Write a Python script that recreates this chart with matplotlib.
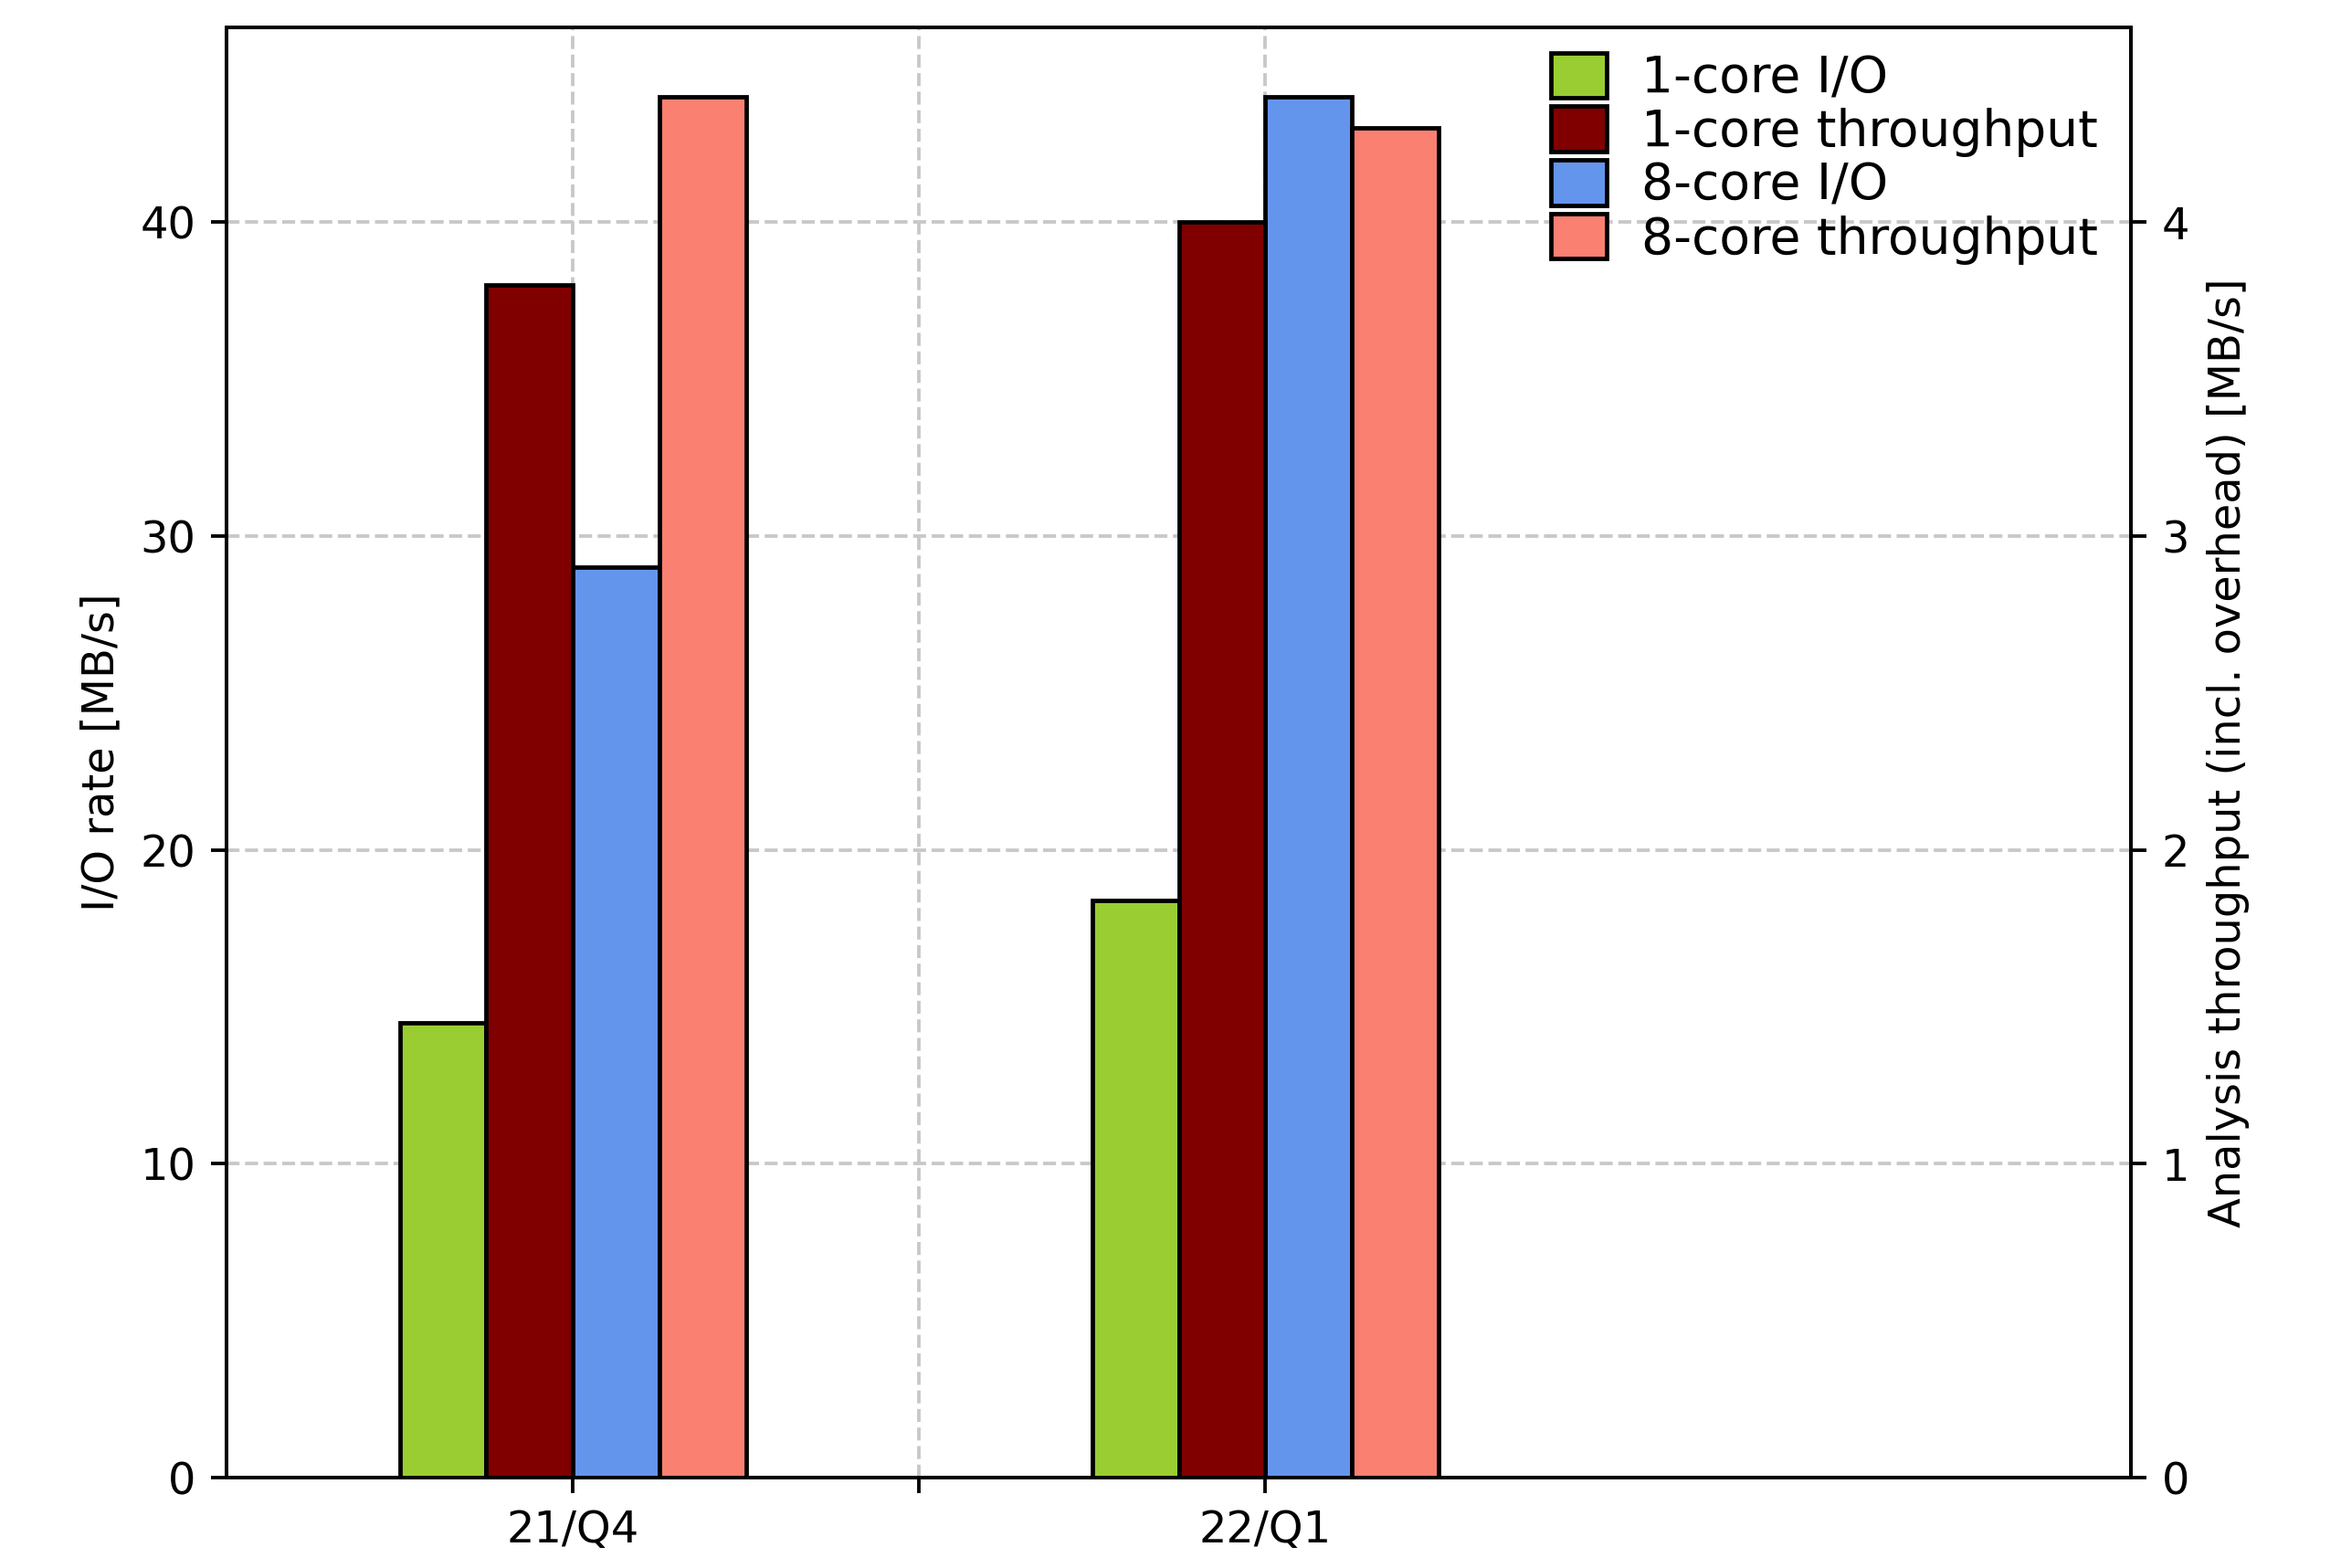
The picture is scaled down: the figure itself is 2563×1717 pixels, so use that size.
import matplotlib
matplotlib.use("Agg")
import matplotlib.pyplot as plt
import numpy as np

# Quarters and measured rates
quarters = ["21/Q4", "22/Q1"]
io_1core = [14.5, 18.4]          # MB/s, left axis
thr_1core = [3.8, 4.0]           # MB/s, right axis
io_8core = [29.0, 44.0]          # MB/s, left axis
thr_8core = [4.4, 4.3]           # MB/s, right axis

series_labels = ["1-core I/O", "1-core throughput", "8-core I/O", "8-core throughput"]
series_colors = ["yellowgreen", "maroon", "cornflowerblue", "salmon"]

DPI = 345
fig = plt.figure(figsize=(2563 / DPI, 1717 / DPI), dpi=DPI)
ax = fig.add_axes([248 / 2563, 99 / 1717, (2333 - 248) / 2563, (1618 - 30) / 1717])
ax2 = ax.twinx()

x = np.arange(len(quarters))
w = 0.125

b1 = ax.bar(x - 1.5 * w, io_1core, w, color=series_colors[0], edgecolor="black",
            linewidth=1.0, label=series_labels[0])
b2 = ax2.bar(x - 0.5 * w, thr_1core, w, color=series_colors[1], edgecolor="black",
             linewidth=1.0, label=series_labels[1])
b3 = ax.bar(x + 0.5 * w, io_8core, w, color=series_colors[2], edgecolor="black",
            linewidth=1.0, label=series_labels[2])
b4 = ax2.bar(x + 1.5 * w, thr_8core, w, color=series_colors[3], edgecolor="black",
             linewidth=1.0, label=series_labels[3])

ax.set_xlim(-0.5, 2.25)
ax.set_xticks([0, 0.5, 1])
ax.set_xticklabels([quarters[0], "", quarters[1]])

ax.set_yticks([0, 10, 20, 30, 40])
ax2.set_yticks([0, 1, 2, 3, 4])
top = max(max(io_1core), max(io_8core)) * 1.05
ax.set_ylim(0, top)
ax2.set_ylim(0, top / 10)

ax.set_axisbelow(True)
ax.grid(True, linestyle="--", color="#c8c8c8", linewidth=0.8)

ax.set_ylabel("I/O rate [MB/s]")
ax2.set_ylabel("Analysis throughput (incl. overhead) [MB/s]")

handles = [b1, b2, b3, b4]
leg = ax2.legend(handles, series_labels, loc="upper right",
                 bbox_to_anchor=(1 - 8 / 2085, 1), fontsize=11.5,
                 frameon=False, labelspacing=0.06, handlelength=1.1,
                 handleheight=1.0, handletextpad=0.7, borderaxespad=0.2,
                 borderpad=0.3)

fig.savefig("out.png", dpi=DPI)
